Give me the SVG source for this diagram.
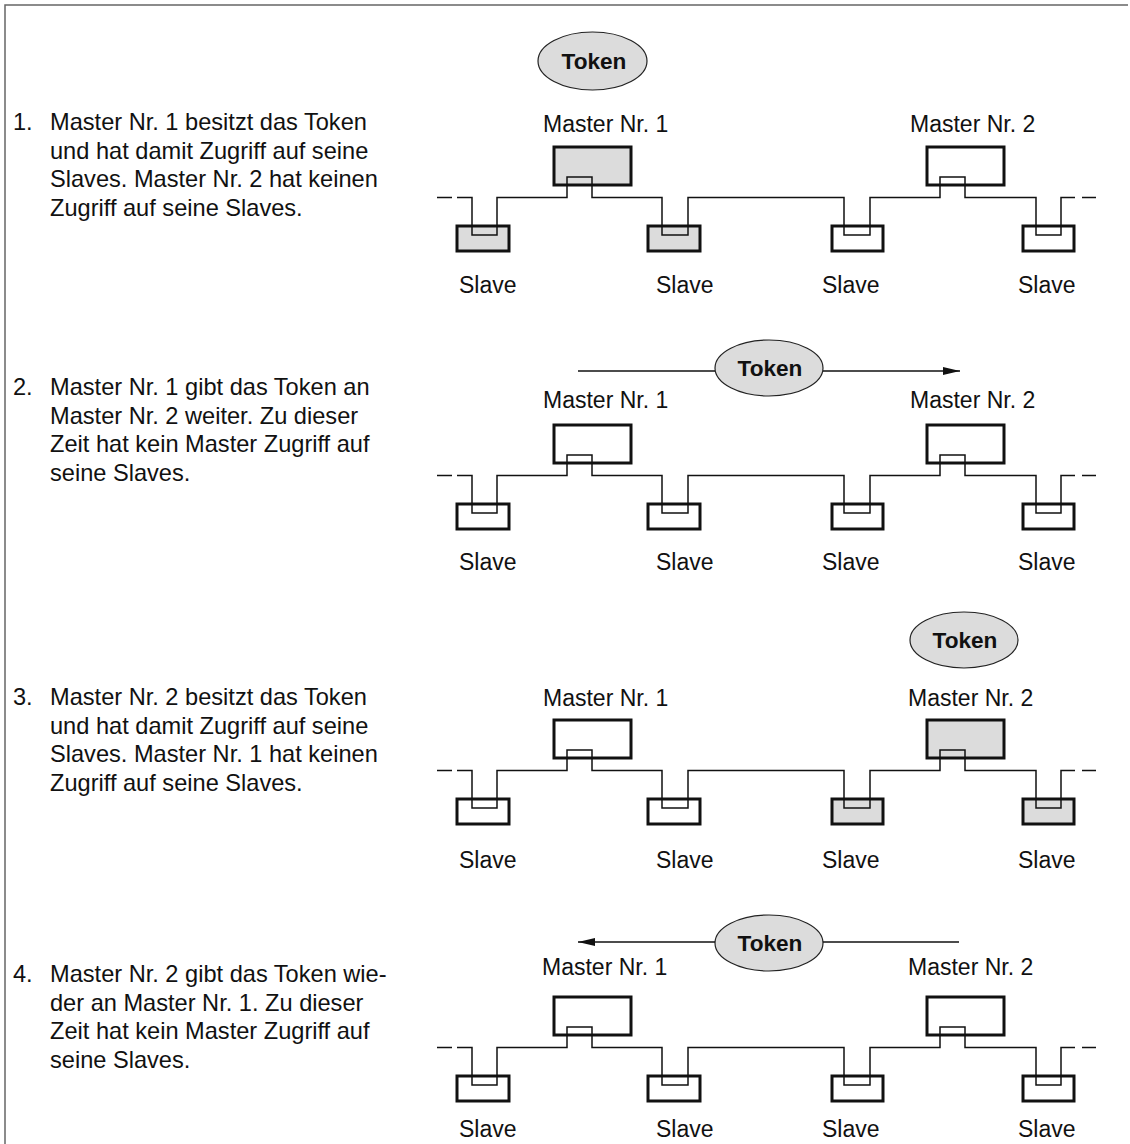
<svg xmlns="http://www.w3.org/2000/svg" width="1130" height="1144" viewBox="0 0 1130 1144">
<style>
text{font-family:"Liberation Sans",Arial,sans-serif;font-size:23px;fill:#111}
.d{font-size:23.6px}
.tok{font-weight:bold;font-size:22.6px;text-anchor:middle}
.box{fill:#fff;stroke:#111;stroke-width:3}
.on{fill:#dcdcdc}
.bus{fill:none;stroke:#111;stroke-width:1.5}
.ell{fill:#dcdcdc;stroke:#222;stroke-width:1.2}
.arr{fill:none;stroke:#111;stroke-width:1.3}
.frame{fill:none;stroke:#666;stroke-width:1.5}
</style>
<defs>
<marker id="ah" markerUnits="userSpaceOnUse" markerWidth="18" markerHeight="10" refX="17" refY="5" orient="auto">
<path d="M0,1 L17,5 L0,9 Z" fill="#111"/>
</marker>
<path id="busPath" d="M437,197.5 H452 M457,197.5 H472 V235 H497 V197.5 H567 V177 H592 V197.5 H662 V235 H688 V197.5 H844 V235 H870 V197.5 H940 V177 H965 V197.5 H1036 V235 H1061 V197.5 H1075 M1082,197.5 H1096"/>
</defs>
<path class="frame" d="M5,1144 V5 H1128"/>

<!-- Panel 1 -->
<g id="panel1">
<g id="p1-desc" class="d">
<text class="d" x="13" y="130">1.</text>
<text class="d" x="50" y="130">Master Nr. 1 besitzt das Token</text>
<text class="d" x="50" y="158.5">und hat damit Zugriff auf seine</text>
<text class="d" x="50" y="187">Slaves. Master Nr. 2 hat keinen</text>
<text class="d" x="50" y="215.5">Zugriff auf seine Slaves.</text>
</g>
<g id="p1-token"><ellipse class="ell" cx="592.5" cy="61" rx="54.5" ry="29"/><text class="tok" x="594" y="69">Token</text></g>
<g id="p1-master1"><rect class="box on" x="554" y="147" width="77" height="38"/><text x="543" y="132">Master Nr. 1</text></g>
<g id="p1-master2"><rect class="box" x="927" y="147" width="77" height="38"/><text x="910" y="132">Master Nr. 2</text></g>
<g id="p1-slave1"><rect class="box on" x="457" y="226" width="52" height="25"/><text x="459" y="293">Slave</text></g>
<g id="p1-slave2"><rect class="box on" x="648" y="226" width="52" height="25"/><text x="656" y="293">Slave</text></g>
<g id="p1-slave3"><rect class="box" x="832" y="226" width="51" height="25"/><text x="822" y="293">Slave</text></g>
<g id="p1-slave4"><rect class="box" x="1023" y="226" width="51" height="25"/><text x="1018" y="293">Slave</text></g>
<g id="p1-connectors"><use href="#busPath" class="bus"/></g>
</g>

<!-- Panel 2 -->
<g id="panel2">
<g id="p2-desc">
<text class="d" x="13" y="395">2.</text>
<text class="d" x="50" y="395">Master Nr. 1 gibt das Token an</text>
<text class="d" x="50" y="423.5">Master Nr. 2 weiter. Zu dieser</text>
<text class="d" x="50" y="452">Zeit hat kein Master Zugriff auf</text>
<text class="d" x="50" y="480.5">seine Slaves.</text>
</g>
<g id="p2-token"><ellipse class="ell" cx="769" cy="368" rx="54" ry="28"/><text class="tok" x="770" y="376">Token</text></g>
<g transform="translate(0,278)">
<g id="p2-master1"><rect class="box" x="554" y="147" width="77" height="38"/><text x="543" y="130">Master Nr. 1</text></g>
<g id="p2-master2"><rect class="box" x="927" y="147" width="77" height="38"/><text x="910" y="130">Master Nr. 2</text></g>
<g id="p2-slave1"><rect class="box" x="457" y="226" width="52" height="25"/><text x="459" y="292">Slave</text></g>
<g id="p2-slave2"><rect class="box" x="648" y="226" width="52" height="25"/><text x="656" y="292">Slave</text></g>
<g id="p2-slave3"><rect class="box" x="832" y="226" width="51" height="25"/><text x="822" y="292">Slave</text></g>
<g id="p2-slave4"><rect class="box" x="1023" y="226" width="51" height="25"/><text x="1018" y="292">Slave</text></g>
<g id="p2-connectors"><use href="#busPath" class="bus"/></g>
</g>
<g id="p2-arrows">
<line class="arr" x1="578" y1="371" x2="715" y2="371"/>
<line class="arr" x1="823" y1="371" x2="960" y2="371" marker-end="url(#ah)"/>
</g>
</g>

<!-- Panel 3 -->
<g id="panel3">
<g id="p3-desc">
<text class="d" x="13" y="705">3.</text>
<text class="d" x="50" y="705">Master Nr. 2 besitzt das Token</text>
<text class="d" x="50" y="733.5">und hat damit Zugriff auf seine</text>
<text class="d" x="50" y="762">Slaves. Master Nr. 1 hat keinen</text>
<text class="d" x="50" y="790.5">Zugriff auf seine Slaves.</text>
</g>
<g id="p3-token"><ellipse class="ell" cx="964" cy="640" rx="54" ry="28"/><text class="tok" x="965" y="648">Token</text></g>
<g transform="translate(0,573)">
<g id="p3-master1"><rect class="box" x="554" y="147" width="77" height="38"/><text x="543" y="133">Master Nr. 1</text></g>
<g id="p3-master2"><rect class="box on" x="927" y="147" width="77" height="38"/><text x="908" y="133">Master Nr. 2</text></g>
<g id="p3-slave1"><rect class="box" x="457" y="226" width="52" height="25"/><text x="459" y="295">Slave</text></g>
<g id="p3-slave2"><rect class="box" x="648" y="226" width="52" height="25"/><text x="656" y="295">Slave</text></g>
<g id="p3-slave3"><rect class="box on" x="832" y="226" width="51" height="25"/><text x="822" y="295">Slave</text></g>
<g id="p3-slave4"><rect class="box on" x="1023" y="226" width="51" height="25"/><text x="1018" y="295">Slave</text></g>
<g id="p3-connectors"><use href="#busPath" class="bus"/></g>
</g>
</g>

<!-- Panel 4 -->
<g id="panel4">
<g id="p4-desc">
<text class="d" x="13" y="982">4.</text>
<text class="d" x="50" y="982">Master Nr. 2 gibt das Token wie-</text>
<text class="d" x="50" y="1010.5">der an Master Nr. 1. Zu dieser</text>
<text class="d" x="50" y="1039">Zeit hat kein Master Zugriff auf</text>
<text class="d" x="50" y="1067.5">seine Slaves.</text>
</g>
<g id="p4-token"><ellipse class="ell" cx="769" cy="943" rx="54" ry="28"/><text class="tok" x="770" y="951">Token</text></g>
<g transform="translate(0,850)">
<g id="p4-master1"><rect class="box" x="554" y="147" width="77" height="38"/><text x="542" y="125">Master Nr. 1</text></g>
<g id="p4-master2"><rect class="box" x="927" y="147" width="77" height="38"/><text x="908" y="125">Master Nr. 2</text></g>
<g id="p4-slave1"><rect class="box" x="457" y="226" width="52" height="25"/><text x="459" y="287">Slave</text></g>
<g id="p4-slave2"><rect class="box" x="648" y="226" width="52" height="25"/><text x="656" y="287">Slave</text></g>
<g id="p4-slave3"><rect class="box" x="832" y="226" width="51" height="25"/><text x="822" y="287">Slave</text></g>
<g id="p4-slave4"><rect class="box" x="1023" y="226" width="51" height="25"/><text x="1018" y="287">Slave</text></g>
<g id="p4-connectors"><use href="#busPath" class="bus"/></g>
</g>
<g id="p4-arrows">
<line class="arr" x1="715" y1="942" x2="578" y2="942" marker-end="url(#ah)"/>
<line class="arr" x1="823" y1="942" x2="959" y2="942"/>
</g>
</g>
</svg>
